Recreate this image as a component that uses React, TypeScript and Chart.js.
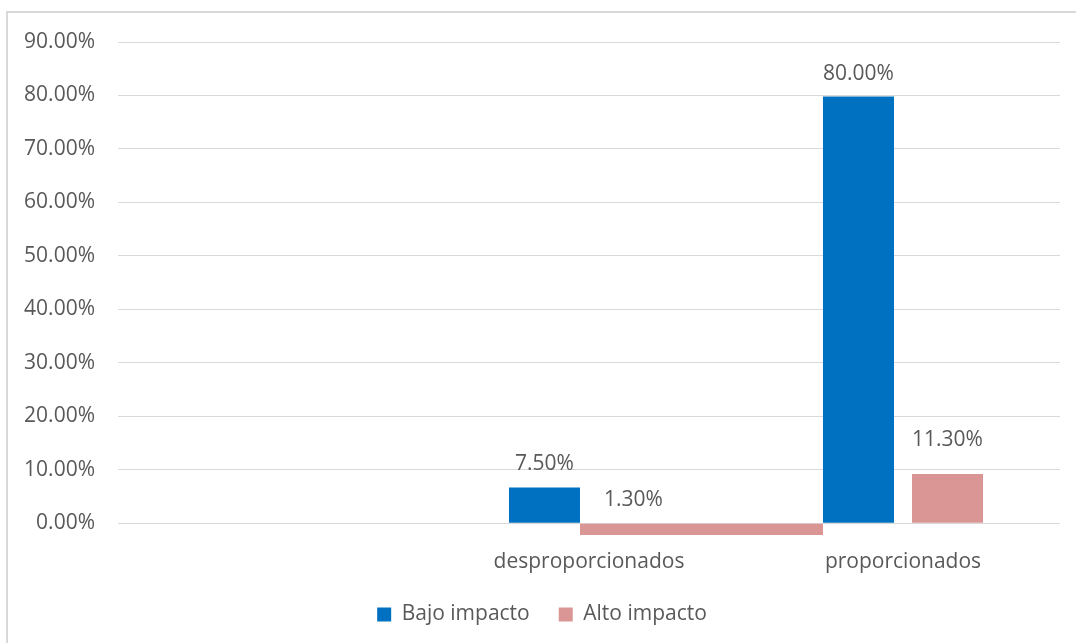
import React, { useEffect, useRef } from 'react';
import { Chart, registerables } from 'chart.js';

Chart.register(...registerables);

const categories = ['', 'desproporcionados', 'proporcionados'];
const seriesNames = ['Bajo impacto', 'Alto impacto'];
const bajoImpacto = [null, 6.7, 79.8];
// the "Alto impacto" bar of "desproporcionados" is drawn as a band below the zero line
const altoImpacto = [null, -2.2, 9.2];
const bajoLabels = ['', '7.50%', '80.00%'];
const altoLabels = ['', '1.30%', '11.30%'];
const bajoLabelAt = [null, 6.7, 79.8];
const altoLabelAt = [null, 0, 11.3];
const yTicks = [0, 10, 20, 30, 40, 50, 60, 70, 80, 90];
const yMin = -2.2;
const yMax = 90;

const BLUE = '#0070C0';
const PINK = '#D99694';
const TEXT = '#595959';
const GRID = '#D9D9D9';
const FONT = '"Open Sans", "Noto Sans", sans-serif';

// The negative pink bar spreads from the end of its blue neighbour to the start of the next blue bar.
const stretchBand = {
  id: 'stretchBand',
  afterDatasetsUpdate(chart: any) {
    const blue = chart.getDatasetMeta(0).data;
    const pink = chart.getDatasetMeta(1).data;
    pink.forEach((el: any, i: number) => {
      el.$labelX = el.x;
      const v = altoImpacto[i];
      if (v == null || v >= 0) return;
      const a = blue[i];
      const b = blue[i + 1];
      if (!a || !b) return;
      const left = a.x + a.width / 2;
      const right = b.x - b.width / 2;
      el.x = (left + right) / 2;
      el.width = right - left;
    });
  },
};

const valueLabels = {
  id: 'valueLabels',
  afterDatasetsDraw(chart: any) {
    const ctx = chart.ctx;
    const y = chart.scales.y;
    const sets: [string[], (number | null)[]][] = [
      [bajoLabels, bajoLabelAt],
      [altoLabels, altoLabelAt],
    ];
    sets.forEach(([texts, at], di) => {
      const meta = chart.getDatasetMeta(di);
      meta.data.forEach((el: any, i: number) => {
        const v = at[i];
        if (v == null || !texts[i]) return;
        ctx.save();
        ctx.font = `21px ${FONT}`;
        ctx.fillStyle = TEXT;
        ctx.textAlign = 'center';
        ctx.textBaseline = 'middle';
        ctx.fillText(texts[i], el.$labelX ?? el.x, y.getPixelForValue(v) - 23);
        ctx.restore();
      });
    });
  },
};

export default function App() {
  const ref = useRef<HTMLCanvasElement | null>(null);

  useEffect(() => {
    if (!ref.current) return;
    const chart = new Chart(ref.current, {
      type: 'bar',
      data: {
        labels: categories,
        datasets: [
          {
            label: seriesNames[0],
            data: bajoImpacto,
            backgroundColor: BLUE,
            borderWidth: 0,
            categoryPercentage: 0.567,
            barPercentage: 0.798,
          },
          {
            label: seriesNames[1],
            data: altoImpacto,
            backgroundColor: PINK,
            borderWidth: 0,
            categoryPercentage: 0.567,
            barPercentage: 0.798,
          },
        ],
      },
      options: {
        animation: false,
        responsive: false,
        maintainAspectRatio: false,
        layout: { padding: { left: 24, right: 16, top: 42, bottom: 8 } },
        plugins: {
          tooltip: { enabled: false },
          legend: {
            position: 'bottom',
            labels: {
              boxWidth: 14,
              boxHeight: 14,
              padding: 29,
              color: TEXT,
              font: { family: FONT, size: 21 },
            },
          },
        },
        scales: {
          x: {
            type: 'category',
            grid: { display: false, drawTicks: false },
            border: { display: false },
            ticks: { color: TEXT, font: { family: FONT, size: 21 }, padding: 14, maxRotation: 0 },
            afterFit: (scale: any) => {
              scale.height = 40;
            },
          },
          y: {
            min: yMin,
            max: yMax,
            grid: { color: GRID, lineWidth: 1, drawTicks: false },
            border: { display: false },
            afterBuildTicks: (scale: any) => {
              scale.ticks = yTicks.map((v) => ({ value: v }));
            },
            ticks: {
              color: TEXT,
              font: { family: FONT, size: 21 },
              padding: 23,
              callback: (v: any) => Number(v).toFixed(2) + '%',
            },
            afterFit: (scale: any) => {
              scale.width = 94;
            },
          },
        },
      },
      plugins: [stretchBand, valueLabels],
    });
    return () => chart.destroy();
  }, []);

  return (
    <div style={{ position: 'fixed', left: 0, top: 0, width: 1076, height: 643, background: '#fff', overflow: 'hidden' }}>
      <div
        style={{
          position: 'absolute',
          left: 6,
          top: 11,
          width: 1200,
          height: 800,
          borderLeft: `2px solid ${GRID}`,
          borderTop: `2px solid ${GRID}`,
        }}
      />
      <canvas ref={ref} width={1076} height={643} style={{ position: 'absolute', left: 0, top: 0, width: 1076, height: 643 }} />
    </div>
  );
}
